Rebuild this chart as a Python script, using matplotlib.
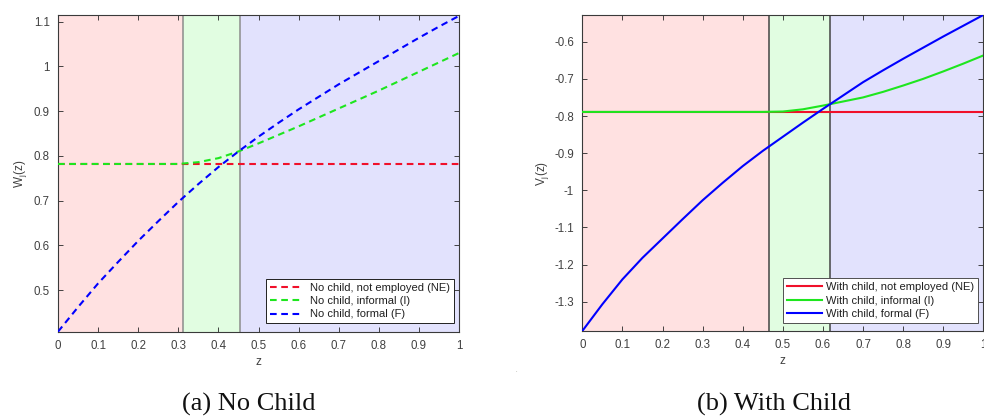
import numpy as np
import matplotlib
matplotlib.use("Agg")
from matplotlib import pyplot as plt
from matplotlib.ticker import FuncFormatter

# grid of z values
z = np.linspace(0, 1, 21)

# (a) no child
w_ne = [0.782] * 21
w_inf = [0.782, 0.782, 0.782, 0.782, 0.782, 0.782, 0.782, 0.786, 0.795, 0.810, 0.828,
         0.847, 0.866, 0.886, 0.906, 0.926, 0.946, 0.967, 0.988, 1.009, 1.030]
w_for = [0.407, 0.462, 0.515, 0.563, 0.610, 0.654, 0.697, 0.737, 0.775, 0.810, 0.843,
         0.874, 0.904, 0.932, 0.960, 0.986, 1.012, 1.038, 1.064, 1.089, 1.113]
w_cut = [0.3125, 0.453]
w_lim = [0.407, 1.115]

# (b) with child
v_ne = [-0.789] * 21
v_inf = [-0.789, -0.789, -0.789, -0.789, -0.789, -0.789, -0.789, -0.789, -0.789, -0.789, -0.788,
         -0.782, -0.772, -0.761, -0.750, -0.735, -0.718, -0.700, -0.680, -0.659, -0.637]
v_for = [-1.379, -1.307, -1.240, -1.182, -1.130, -1.078, -1.027, -0.980, -0.935, -0.894, -0.856,
         -0.818, -0.781, -0.745, -0.709, -0.677, -0.646, -0.616, -0.586, -0.557, -0.528]
v_cut = [0.466, 0.618]
v_lim = [-1.379, -0.528]

lab_a = ["No child, not employed (NE)", "No child, informal (I)", "No child, formal (F)"]
lab_b = ["With child, not employed (NE)", "With child, informal (I)", "With child, formal (F)"]

plt.rcParams["font.family"] = ["Liberation Sans", "DejaVu Sans"]
plt.rcParams["font.size"] = 8

RED = "#f0102a"
GRN = "#1ee61e"
BLU = "#0000ff"
TXT = "#404040"

fig = plt.figure(figsize=(9.84, 4.17), dpi=100)
W, H = 984, 417


def px_axes(x0, x1, y0, y1):
    return fig.add_axes([x0 / W, 1 - y1 / H, (x1 - x0) / W, (y1 - y0) / H])


def style(ax, ylim, cut, cutcol, ylab, ylabx):
    ax.set_xlim(0, 1)
    ax.set_ylim(*ylim)
    ax.axvspan(0, cut[0], color="#ffe1e1", zorder=0, lw=0)
    ax.axvspan(cut[0], cut[1], color="#e1fde1", zorder=0, lw=0)
    ax.axvspan(cut[1], 1, color="#e2e2fd", zorder=0, lw=0)
    for c in cut:
        ax.axvline(c, color=cutcol, lw=1.1, zorder=1)
    ax.set_xticks(np.arange(0, 1.01, 0.1))
    ax.xaxis.set_major_formatter(FuncFormatter(lambda v, p: "%g" % round(v, 2)))
    ax.yaxis.set_major_formatter(FuncFormatter(lambda v, p: "%g" % round(v, 2)))
    ax.tick_params(direction="in", length=3.5, width=0.6, top=True, right=True,
                   colors="#262626", labelcolor=TXT, labelsize=8.3, pad=6)
    for s in ax.spines.values():
        s.set_color("#3a3a3a")
        s.set_linewidth(0.8)
    ax.set_xlabel("z", color=TXT, fontsize=8.5, labelpad=3)
    ax.set_ylabel(ylab, color=TXT, fontsize=8.5)
    pos = ax.get_position()
    ax.yaxis.set_label_coords((ylabx - pos.x0 * W) / (pos.width * W), 0.5)


# panel (a)
ax1 = px_axes(58, 459, 15, 331.7)
style(ax1, w_lim, w_cut, "#8c8c8c", r"W$_\mathregular{j}$(z)", 29)
ax1.set_yticks(np.arange(0.5, 1.11, 0.1))
dash = (3.2, 2.2)
ax1.plot(z, w_ne, color=RED, lw=1.5, dashes=dash, label=lab_a[0], zorder=3)
ax1.plot(z, w_inf, color=GRN, lw=1.5, dashes=dash, label=lab_a[1], zorder=4)
ax1.plot(z, w_for, color=BLU, lw=1.5, dashes=dash, label=lab_a[2], zorder=5)
leg1 = ax1.legend(loc="lower right", bbox_to_anchor=(0.9875, 0.0265), borderaxespad=0,
                  fancybox=False, framealpha=1, edgecolor="#202020", fontsize=8,
                  handlelength=2.7, handletextpad=0.9, labelspacing=0.3, borderpad=0.35)
leg1.get_frame().set_linewidth(0.7)
for t in leg1.get_texts():
    t.set_color("#202020")

# panel (b)
ax2 = px_axes(582.3, 983.3, 15, 331)
style(ax2, v_lim, v_cut, "#444444", r"V$_\mathregular{j}$(z)", 551)
ax2.set_yticks(np.arange(-1.3, -0.55, 0.1))
ax2.plot(z, v_ne, color=RED, lw=1.5, label=lab_b[0], zorder=3)
ax2.plot(z, v_inf, color=GRN, lw=1.5, label=lab_b[1], zorder=4)
ax2.plot(z, v_for, color=BLU, lw=1.5, label=lab_b[2], zorder=5)
leg2 = ax2.legend(loc="lower right", bbox_to_anchor=(0.986, 0.026), borderaxespad=0,
                  fancybox=False, framealpha=1, edgecolor="#505050", fontsize=8,
                  handlelength=3.2, handletextpad=0.3, labelspacing=0.3, borderpad=0.35)
leg2.get_frame().set_linewidth(0.7)
for t in leg2.get_texts():
    t.set_color("#202020")

# captions
cap = dict(family=["Liberation Serif", "DejaVu Serif"], fontsize=19, color="#111111",
           ha="center", va="center")
fig.text(249 / W, 1 - 404 / H, "(a) No Child", **cap)
fig.text(774 / W, 1 - 404 / H, "(b) With Child", **cap)
fig.text(516 / W, 1 - 371 / H, ".", fontsize=4, color="#777766", ha="center", va="center")

fig.savefig("out.png", dpi=100)
